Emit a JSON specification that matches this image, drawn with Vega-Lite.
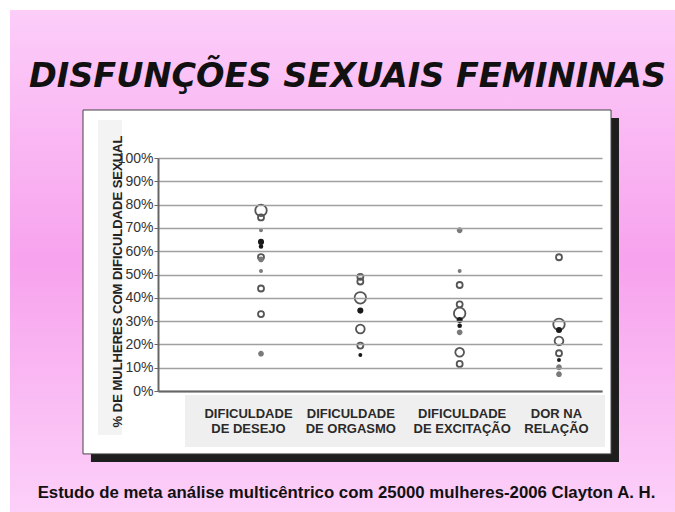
{
  "$schema": "https://vega.github.io/schema/vega-lite/v6.json",
  "width": 665,
  "height": 502,
  "autosize": "none",
  "padding": {"left": 10, "top": 10, "right": 0, "bottom": 0},
  "background": "white",
  "title": {
    "text": "DISFUNÇÕES SEXUAIS FEMININAS",
    "font": "DejaVu Sans",
    "fontSize": 33.5,
    "fontWeight": "bold",
    "fontStyle": "italic",
    "color": "#111111",
    "anchor": "middle",
    "offset": -84,
    "dx": 5
  },
  "config": {"view": {"stroke": null}, "axis": {"zindex": 2}},
  "layer": [
    {
      "data": {"values": [{}]},
      "mark": {
        "type": "rect",
        "fill": {
          "gradient": "linear",
          "x1": 0, "y1": 0, "x2": 0, "y2": 1,
          "stops": [
            {"offset": 0, "color": "#fccdf9"},
            {"offset": 0.5, "color": "#f7a3ed"},
            {"offset": 1, "color": "#fcd0f9"}
          ]
        }
      },
      "encoding": {}
    },
    {
      "data": {"values": [{}]},
      "mark": {"type": "rect", "fill": "#1e1e1e"},
      "encoding": {
        "x": {"datum": -0.712, "type": "quantitative"},
        "x2": {"datum": 4.604},
        "y": {"datum": 117.2, "type": "quantitative"},
        "y2": {"datum": -30.5}
      }
    },
    {
      "data": {"values": [{}]},
      "mark": {"type": "rect", "fill": "#ffffff", "stroke": "#444444", "strokeWidth": 1},
      "encoding": {
        "x": {"datum": -0.792, "type": "quantitative"},
        "x2": {"datum": 4.524},
        "y": {"datum": 120.6, "type": "quantitative"},
        "y2": {"datum": -27.0}
      }
    },
    {
      "data": {"values": [{}]},
      "mark": {"type": "rect", "fill": "#f3f3f3"},
      "encoding": {
        "x": {"datum": -0.641, "type": "quantitative"},
        "x2": {"datum": -0.4},
        "y": {"datum": 116.3, "type": "quantitative"},
        "y2": {"datum": -18.9}
      }
    },
    {
      "data": {"values": [{}]},
      "mark": {"type": "rect", "fill": "#efefef"},
      "encoding": {
        "x": {"datum": 0.235, "type": "quantitative"},
        "x2": {"datum": 4.463},
        "y": {"datum": -1.7, "type": "quantitative"},
        "y2": {"datum": -24.0}
      }
    },
    {
      "data": {
        "values": [
          {"categoria": "Dificuldade de desejo", "idx": 1, "pct": 77.5, "n": 1650, "tipo": "aberto"},
          {"categoria": "Dificuldade de desejo", "idx": 1, "pct": 74.5, "n": 450, "tipo": "aberto"},
          {"categoria": "Dificuldade de desejo", "idx": 1, "pct": 69, "n": 60, "tipo": "cinza"},
          {"categoria": "Dificuldade de desejo", "idx": 1, "pct": 64, "n": 230, "tipo": "preto"},
          {"categoria": "Dificuldade de desejo", "idx": 1, "pct": 62, "n": 100, "tipo": "preto"},
          {"categoria": "Dificuldade de desejo", "idx": 1, "pct": 57.5, "n": 450, "tipo": "aberto"},
          {"categoria": "Dificuldade de desejo", "idx": 1, "pct": 56.5, "n": 200, "tipo": "cinza"},
          {"categoria": "Dificuldade de desejo", "idx": 1, "pct": 51.5, "n": 60, "tipo": "cinza"},
          {"categoria": "Dificuldade de desejo", "idx": 1, "pct": 44, "n": 450, "tipo": "aberto"},
          {"categoria": "Dificuldade de desejo", "idx": 1, "pct": 33, "n": 450, "tipo": "aberto"},
          {"categoria": "Dificuldade de desejo", "idx": 1, "pct": 16, "n": 200, "tipo": "cinza"},
          {"categoria": "Dificuldade de orgasmo", "idx": 2, "pct": 49, "n": 450, "tipo": "aberto"},
          {"categoria": "Dificuldade de orgasmo", "idx": 2, "pct": 47, "n": 450, "tipo": "aberto"},
          {"categoria": "Dificuldade de orgasmo", "idx": 2, "pct": 40, "n": 1650, "tipo": "aberto"},
          {"categoria": "Dificuldade de orgasmo", "idx": 2, "pct": 34.5, "n": 230, "tipo": "preto"},
          {"categoria": "Dificuldade de orgasmo", "idx": 2, "pct": 26.6, "n": 950, "tipo": "aberto"},
          {"categoria": "Dificuldade de orgasmo", "idx": 2, "pct": 19.5, "n": 450, "tipo": "aberto"},
          {"categoria": "Dificuldade de orgasmo", "idx": 2, "pct": 15.5, "n": 60, "tipo": "preto"},
          {"categoria": "Dificuldade de excitação", "idx": 3, "pct": 69, "n": 200, "tipo": "cinza"},
          {"categoria": "Dificuldade de excitação", "idx": 3, "pct": 51.5, "n": 60, "tipo": "cinza"},
          {"categoria": "Dificuldade de excitação", "idx": 3, "pct": 45.5, "n": 450, "tipo": "aberto"},
          {"categoria": "Dificuldade de excitação", "idx": 3, "pct": 37.2, "n": 450, "tipo": "aberto"},
          {"categoria": "Dificuldade de excitação", "idx": 3, "pct": 33.3, "n": 1650, "tipo": "aberto"},
          {"categoria": "Dificuldade de excitação", "idx": 3, "pct": 30.5, "n": 230, "tipo": "preto"},
          {"categoria": "Dificuldade de excitação", "idx": 3, "pct": 28, "n": 100, "tipo": "preto"},
          {"categoria": "Dificuldade de excitação", "idx": 3, "pct": 25.2, "n": 200, "tipo": "cinza"},
          {"categoria": "Dificuldade de excitação", "idx": 3, "pct": 16.6, "n": 950, "tipo": "aberto"},
          {"categoria": "Dificuldade de excitação", "idx": 3, "pct": 11.6, "n": 450, "tipo": "aberto"},
          {"categoria": "Dor na relação", "idx": 4, "pct": 57.4, "n": 450, "tipo": "aberto"},
          {"categoria": "Dor na relação", "idx": 4, "pct": 28.6, "n": 1650, "tipo": "aberto"},
          {"categoria": "Dor na relação", "idx": 4, "pct": 26.2, "n": 230, "tipo": "preto"},
          {"categoria": "Dor na relação", "idx": 4, "pct": 21.5, "n": 950, "tipo": "aberto"},
          {"categoria": "Dor na relação", "idx": 4, "pct": 16.2, "n": 450, "tipo": "aberto"},
          {"categoria": "Dor na relação", "idx": 4, "pct": 13.3, "n": 60, "tipo": "preto"},
          {"categoria": "Dor na relação", "idx": 4, "pct": 10.2, "n": 200, "tipo": "cinza"},
          {"categoria": "Dor na relação", "idx": 4, "pct": 7.2, "n": 200, "tipo": "cinza"}
        ]
      },
      "mark": {"type": "circle", "strokeWidth": 1.8, "opacity": 1},
      "encoding": {
        "x": {
          "field": "idx",
          "type": "quantitative",
          "scale": {"domain": [-0.037, 4.433], "range": [148, 592], "nice": false, "zero": false},
          "axis": {
            "values": [1, 2, 3, 4],
            "grid": false,
            "ticks": false,
            "tickSize": 0,
            "domain": true,
            "domainColor": "#666666",
            "domainWidth": 2,
            "offset": -121,
            "labelExpr": "datum.value == 1 ? ['DIFICULDADE', 'DE DESEJO'] : datum.value == 2 ? ['DIFICULDADE', 'DE ORGASMO'] : datum.value == 3 ? ['DIFICULDADE', 'DE EXCITAÇÃO'] : ['DOR NA', 'RELAÇÃO']",
            "labelFont": "Liberation Sans",
            "labelFontSize": 13,
            "labelFontWeight": "bold",
            "labelColor": "#2a2a2a",
            "labelLineHeight": 15,
            "labelBaseline": "top",
            "labelPadding": 16,
            "labelFlush": false,
            "labelOverlap": false,
            "labelBound": false,
            "labelOffset": {"condition": [{"test": "datum.value == 1", "value": -13}, {"test": "datum.value == 2", "value": -10}, {"test": "datum.value == 3", "value": 2}], "value": -3},
            "title": "Estudo de meta análise multicêntrico com 25000 mulheres-2006 Clayton A. H.",
            "titleFont": "Liberation Sans",
            "titleFontSize": 16.8,
            "titleFontWeight": "bold",
            "titleColor": "#111111",
            "titleX": 336,
            "titleY": 101,
            "titleAlign": "center",
            "titleBaseline": "middle",
            "zindex": 2
          }
        },
        "y": {
          "field": "pct",
          "type": "quantitative",
          "scale": {"domain": [0, 100], "range": [381, 148], "nice": false, "zero": false},
          "axis": {
            "values": [0, 10, 20, 30, 40, 50, 60, 70, 80, 90, 100],
            "labelExpr": "datum.value + '%'",
            "offset": -148,
            "grid": true,
            "gridColor": "#a0a0a0",
            "gridWidth": 1.6,
            "domainColor": "#666666",
            "domainWidth": 2,
            "tickColor": "#666666",
            "tickSize": 4,
            "labelFont": "Liberation Sans",
            "labelFontSize": 14,
            "labelColor": "#333333",
            "labelPadding": 1,
            "title": "% DE MULHERES COM DIFICULDADE SEXUAL",
            "titleFont": "Liberation Sans",
            "titleFontSize": 13,
            "titleFontWeight": "bold",
            "titleColor": "#222222",
            "titleAngle": 270,
            "titleX": -41,
            "titleY": 271,
            "titleAlign": "center",
            "titleBaseline": "middle",
            "zindex": 2
          }
        },
        "size": {"field": "n", "type": "quantitative", "scale": {"domain": [0, 2000], "range": [0, 160]}, "legend": null},
        "fill": {"field": "tipo", "type": "nominal", "scale": {"domain": ["aberto", "preto", "cinza"], "range": ["transparent", "#1a1a1a", "#7a7a7a"]}, "legend": null},
        "stroke": {"field": "tipo", "type": "nominal", "scale": {"domain": ["aberto", "preto", "cinza"], "range": ["#555555", "#1a1a1a", "#7a7a7a"]}, "legend": null},
        "tooltip": [{"field": "categoria"}, {"field": "pct"}]
      }
    }
  ]
}
